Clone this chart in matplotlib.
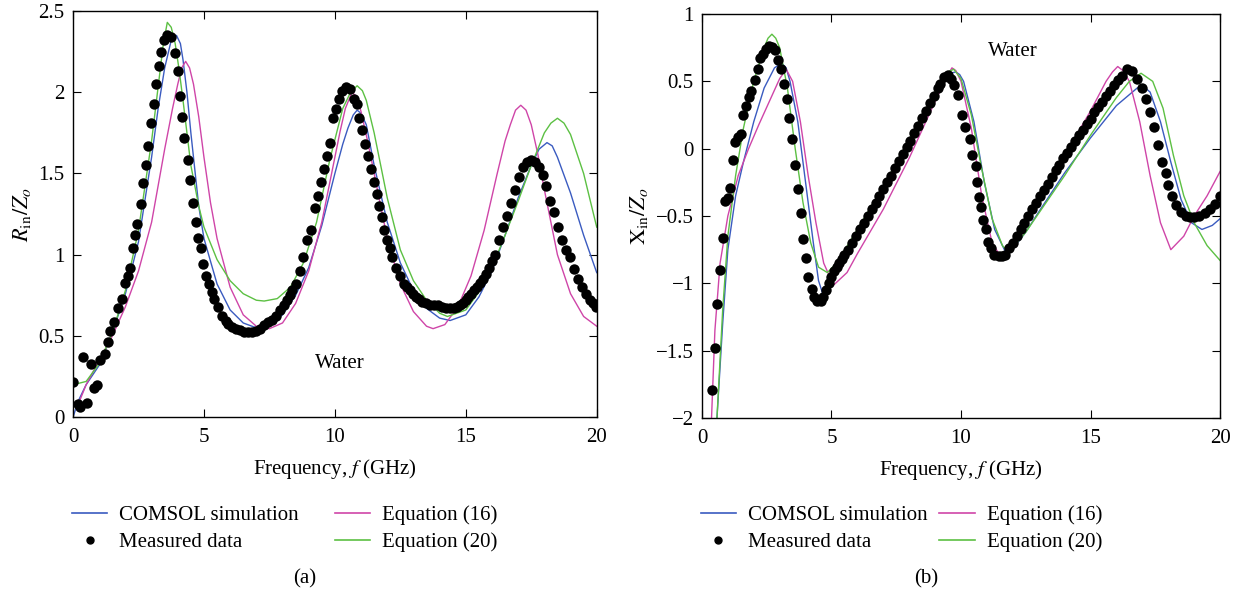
import matplotlib
matplotlib.use("Agg")
import matplotlib.pyplot as plt
from matplotlib.lines import Line2D

plt.rcParams['font.family'] = ['Liberation Serif', 'DejaVu Serif']
plt.rcParams['mathtext.fontset'] = 'stix'
plt.rcParams['font.size'] = 15

# ---------------- (a) R_in / Z_o ----------------
ra_meas_f = [0.0, 0.2, 0.27, 0.38, 0.53, 0.68, 0.8, 0.92, 1.03, 1.22, 1.33, 1.43, 1.58, 1.7, 1.86,
             1.98, 2.08, 2.16, 2.28, 2.38, 2.46, 2.61, 2.69, 2.79, 2.88, 2.99, 3.11, 3.18, 3.29,
             3.37, 3.49, 3.59, 3.74, 3.89, 4.0, 4.08, 4.17, 4.24, 4.38, 4.47, 4.57, 4.68, 4.77,
             4.88, 4.95, 5.06, 5.18, 5.3, 5.4, 5.52, 5.7, 5.85, 5.93, 6.08, 6.23, 6.38, 6.54,
             6.69, 6.84, 6.99, 7.14, 7.29, 7.44, 7.59, 7.74, 7.9, 8.05, 8.16, 8.27, 8.38, 8.5,
             8.65, 8.8, 8.95, 9.1, 9.25, 9.37, 9.48, 9.58, 9.71, 9.83, 9.93, 10.04, 10.16, 10.28,
             10.43, 10.58, 10.73, 10.84, 10.94, 11.03, 11.14, 11.25, 11.37, 11.49, 11.59, 11.7,
             11.79, 11.89, 12.0, 12.09, 12.2, 12.35, 12.5, 12.65, 12.77, 12.88, 13.0, 13.1,
             13.22, 13.33, 13.48, 13.63, 13.78, 13.93, 14.08, 14.23, 14.38, 14.54, 14.65, 14.76,
             14.88, 14.99, 15.1, 15.21, 15.33, 15.44, 15.55, 15.67, 15.78, 15.89, 16.0, 16.12,
             16.27, 16.42, 16.57, 16.72, 16.87, 17.03, 17.18, 17.33, 17.48, 17.63, 17.78, 17.93,
             18.08, 18.23, 18.38, 18.53, 18.69, 18.84, 18.99, 19.14, 19.29, 19.44, 19.6, 19.74,
             19.87, 19.97]
ra_meas = [0.215, 0.08, 0.06, 0.37, 0.09, 0.33, 0.18, 0.2, 0.35, 0.39, 0.46, 0.53, 0.585, 0.67, 0.73,
           0.825, 0.87, 0.92, 1.04, 1.12, 1.19, 1.31, 1.44, 1.55, 1.67, 1.81, 1.93, 2.05, 2.16,
           2.25, 2.32, 2.35, 2.34, 2.24, 2.13, 1.98, 1.85, 1.72, 1.58, 1.46, 1.32, 1.2, 1.1,
           1.04, 0.94, 0.87, 0.82, 0.77, 0.73, 0.68, 0.62, 0.59, 0.575, 0.555, 0.545, 0.535, 0.525,
           0.525, 0.525, 0.53, 0.545, 0.565, 0.585, 0.6, 0.625, 0.66, 0.69, 0.72, 0.75, 0.785, 0.82,
           0.9, 0.985, 1.09, 1.15, 1.29, 1.36, 1.45, 1.53, 1.61, 1.69, 1.84, 1.9, 1.96, 2.01,
           2.035, 2.02, 1.96, 1.93, 1.84, 1.77, 1.68, 1.61, 1.53, 1.45, 1.375, 1.3,
           1.23, 1.15, 1.09, 1.04, 0.985, 0.92, 0.87, 0.82, 0.8, 0.78, 0.76, 0.74,
           0.725, 0.71, 0.7, 0.69, 0.69, 0.69, 0.68, 0.67, 0.67, 0.67, 0.68, 0.69,
           0.705, 0.72, 0.74, 0.76, 0.78, 0.8, 0.825, 0.85, 0.88, 0.92, 0.96, 1.0,
           1.09, 1.17, 1.24, 1.32, 1.4, 1.48, 1.54, 1.57, 1.58, 1.57, 1.54, 1.49,
           1.42, 1.33, 1.26, 1.17, 1.09, 1.03, 0.985, 0.91, 0.85, 0.8, 0.76, 0.72,
           0.7, 0.68]

ra_comsol_f = [0.0, 0.2, 0.5, 1.0, 1.5, 2.0, 2.5, 3.0, 3.25, 3.5, 3.75, 3.95, 4.1, 4.2, 4.35, 4.5,
               4.8, 5.0, 5.5, 6.0, 6.5, 7.0, 7.5, 8.0, 8.5, 9.0, 9.5, 10.0, 10.3, 10.5, 10.7,
               10.85, 11.0, 11.2, 11.5, 12.0, 12.5, 13.0, 13.5, 14.0, 14.4, 15.0, 15.5, 16.0,
               16.5, 17.0, 17.5, 17.8, 18.1, 18.3, 18.5, 19.0, 19.5, 20.0]
ra_comsol = [0.0, 0.1, 0.2, 0.32, 0.52, 0.76, 1.08, 1.6, 1.9, 2.15, 2.32, 2.35, 2.3, 2.2, 2.0, 1.75,
             1.3, 1.1, 0.82, 0.66, 0.58, 0.55, 0.56, 0.63, 0.75, 0.92, 1.18, 1.5, 1.68, 1.78, 1.86,
             1.89, 1.87, 1.8, 1.55, 1.2, 0.95, 0.78, 0.67, 0.61, 0.595, 0.63, 0.74, 0.9,
             1.12, 1.35, 1.55, 1.65, 1.69, 1.67, 1.6, 1.38, 1.12, 0.89]

ra_eq16_f = [0.2, 0.5, 1.0, 1.5, 2.0, 2.5, 3.0, 3.5, 3.8, 4.0, 4.15, 4.3, 4.45, 4.6, 4.8, 5.0, 5.25,
             5.5, 6.0, 6.5, 7.0, 7.5, 8.0, 8.5, 9.0, 9.5, 10.0, 10.2, 10.4, 10.65, 10.85, 11.0,
             11.25, 11.5, 12.0, 12.5, 13.0, 13.5, 13.75, 14.2, 14.7, 15.2, 15.7, 16.2, 16.5,
             16.7, 16.9, 17.1, 17.3, 17.5, 17.75, 18.0, 18.5, 19.0, 19.5, 20.0]
ra_eq16 = [0.08, 0.2, 0.35, 0.5, 0.68, 0.9, 1.2, 1.65, 1.9, 2.05, 2.15, 2.19, 2.15, 2.05, 1.85, 1.6,
           1.32, 1.1, 0.8, 0.63, 0.56, 0.545, 0.58, 0.7, 0.9, 1.2, 1.6, 1.76, 1.9, 2.0, 1.97, 1.88,
           1.7, 1.5, 1.1, 0.82, 0.65, 0.56, 0.545, 0.57, 0.68, 0.87, 1.15, 1.5, 1.7,
           1.8, 1.89, 1.92, 1.89, 1.8, 1.62, 1.4, 1.0, 0.76, 0.62, 0.56]

ra_eq20_f = [0.0, 0.5, 1.0, 1.5, 2.0, 2.5, 3.0, 3.3, 3.45, 3.6, 3.75, 3.9, 4.05, 4.2, 4.5, 4.8, 5.0,
             5.5, 6.0, 6.5, 7.0, 7.3, 7.8, 8.3, 8.8, 9.3, 9.8, 10.3, 10.6, 10.85, 11.05, 11.2,
             11.5, 12.0, 12.5, 13.0, 13.5, 14.0, 14.3, 15.0, 15.5, 16.0, 16.5, 17.0, 17.5, 18.0,
             18.25, 18.5, 18.75, 19.0, 19.5, 20.0]
ra_eq20 = [0.2, 0.22, 0.33, 0.52, 0.78, 1.15, 1.7, 2.1, 2.3, 2.43, 2.4, 2.3, 2.14, 1.95, 1.55, 1.3,
           1.17, 0.97, 0.84, 0.76, 0.72, 0.715, 0.73, 0.8, 0.95, 1.2, 1.58, 1.9, 2.0, 2.04, 2.01,
           1.95, 1.75, 1.35, 1.03, 0.84, 0.72, 0.64, 0.62, 0.66, 0.77, 0.92, 1.12, 1.33, 1.55,
           1.75, 1.81, 1.84, 1.81, 1.74, 1.5, 1.17]

# ---------------- (b) X_in / Z_o ----------------
xb_meas_f = [0.38, 0.5, 0.58, 0.7, 0.81, 0.88, 0.99, 1.08, 1.19, 1.29, 1.39, 1.49, 1.6, 1.69, 1.8,
             1.9, 2.03, 2.15, 2.25, 2.36, 2.48, 2.6, 2.71, 2.82, 2.94, 3.06, 3.17, 3.27, 3.37,
             3.47, 3.58, 3.7, 3.81, 3.9, 4.0, 4.11, 4.23, 4.34, 4.46, 4.58, 4.69, 4.8, 4.92,
             5.0, 5.1, 5.2, 5.3, 5.4, 5.5, 5.65, 5.8, 5.95, 6.1, 6.25, 6.4, 6.55, 6.7, 6.85, 7.0,
             7.15, 7.3, 7.45, 7.6, 7.75, 7.9, 8.05, 8.2, 8.35, 8.5, 8.65, 8.8, 8.95, 9.1, 9.2,
             9.34, 9.5, 9.62, 9.72, 9.87, 10.02, 10.17, 10.33, 10.43, 10.56, 10.63, 10.71, 10.78,
             10.86, 10.97, 11.06, 11.17, 11.29, 11.47, 11.6, 11.7, 11.85, 12.0, 12.15, 12.3,
             12.45, 12.6, 12.75, 12.9, 13.05, 13.2, 13.35, 13.5, 13.65, 13.8, 13.95, 14.1, 14.25,
             14.4, 14.55, 14.7, 14.85, 15.0, 15.15, 15.3, 15.45, 15.6, 15.75, 15.9, 16.05, 16.2,
             16.42, 16.6, 16.8, 17.0, 17.15, 17.3, 17.45, 17.6, 17.75, 17.9, 18.0, 18.15, 18.3,
             18.5, 18.7, 18.85, 19.0, 19.2, 19.4, 19.6, 19.8, 20.0]
xb_meas = [-1.79, -1.48, -1.15, -0.9, -0.66, -0.39, -0.37, -0.29, -0.085, 0.05, 0.09, 0.11, 0.25,
           0.32, 0.385, 0.43, 0.51, 0.595, 0.67, 0.705, 0.74, 0.765, 0.755, 0.73, 0.66, 0.595,
           0.48, 0.37, 0.23, 0.07, -0.12, -0.3, -0.48, -0.67, -0.81, -0.95, -1.04, -1.1, -1.13,
           -1.13, -1.1, -1.05, -1.0, -0.95, -0.91, -0.88, -0.85, -0.82, -0.79, -0.75, -0.7,
           -0.65, -0.6, -0.55, -0.5, -0.45, -0.4, -0.35, -0.3, -0.25, -0.2, -0.14, -0.09, -0.04,
           0.01, 0.06, 0.12, 0.17, 0.23, 0.28, 0.34, 0.39, 0.45, 0.48, 0.53, 0.545, 0.52, 0.47,
           0.4, 0.25, 0.16, 0.07, -0.05, -0.13, -0.25, -0.36, -0.43, -0.53, -0.6, -0.69, -0.74,
           -0.79, -0.8, -0.8, -0.79, -0.74, -0.7, -0.65, -0.6, -0.55, -0.5, -0.45, -0.4, -0.35,
           -0.31, -0.26, -0.21, -0.16, -0.12, -0.07, -0.03, 0.01, 0.06, 0.1, 0.14, 0.18, 0.22,
           0.27, 0.31, 0.35, 0.39, 0.43, 0.47, 0.51, 0.54, 0.59, 0.58, 0.52, 0.45, 0.37, 0.27,
           0.16, 0.03, -0.1, -0.18, -0.27, -0.35, -0.42, -0.47, -0.5, -0.51, -0.51, -0.5,
           -0.48, -0.45, -0.41, -0.35]

xb_comsol_f = [0.58, 0.8, 1.0, 1.3, 1.6, 2.0, 2.4, 2.8, 2.95, 3.1, 3.25, 3.4, 3.7, 4.0, 4.3, 4.5,
               4.65, 4.9, 5.2, 6.0, 7.0, 8.0, 9.0, 9.6, 9.8, 9.95, 10.1, 10.5, 10.9, 11.3, 11.7,
               11.9, 12.5, 13.0, 14.0, 15.0, 16.0, 16.8, 17.0, 17.3, 17.7, 18.1, 18.5, 18.9,
               19.3, 19.7, 20.0]
xb_comsol = [-2.0, -1.3, -0.75, -0.35, -0.1, 0.2, 0.45, 0.6, 0.62, 0.63, 0.6, 0.5, 0.2, -0.25,
             -0.7, -0.98, -1.07, -1.02, -0.92, -0.66, -0.32, 0.05, 0.4, 0.56, 0.57, 0.55, 0.5,
             0.2, -0.25, -0.6, -0.76, -0.77, -0.62, -0.47, -0.18, 0.08, 0.32, 0.45, 0.47, 0.42,
             0.2, -0.1, -0.38, -0.55, -0.6, -0.57, -0.52]

xb_eq16_f = [0.37, 0.5, 0.7, 1.0, 1.4, 1.8, 2.2, 2.6, 3.0, 3.25, 3.5, 3.8, 4.1, 4.4, 4.7, 5.0, 5.1,
             5.6, 6.0, 7.0, 8.0, 9.0, 9.5, 9.65, 9.8, 10.0, 10.4, 10.8, 11.2, 11.6, 12.0, 13.0,
             14.0, 15.0, 15.6, 15.85, 16.05, 16.25, 16.5, 16.9, 17.3, 17.7, 18.1, 18.6, 19.0,
             19.5, 20.0]
xb_eq16 = [-2.0, -1.35, -0.85, -0.5, -0.2, 0.0, 0.18, 0.35, 0.52, 0.59, 0.5, 0.2, -0.2, -0.55,
           -0.85, -0.98, -1.01, -0.92, -0.78, -0.45, -0.07, 0.35, 0.55, 0.6, 0.58, 0.5, 0.15,
           -0.35, -0.7, -0.82, -0.72, -0.4, -0.05, 0.28, 0.5, 0.57, 0.61, 0.58, 0.5, 0.2, -0.2,
           -0.55, -0.75, -0.65, -0.5, -0.35, -0.17]

xb_eq20_f = [0.58, 0.8, 1.0, 1.3, 1.6, 2.0, 2.4, 2.55, 2.7, 2.85, 3.0, 3.3, 3.6, 3.9, 4.2, 4.5,
             4.84, 5.2, 6.0, 7.0, 8.0, 9.0, 9.5, 9.72, 10.0, 10.4, 10.8, 11.2, 11.6, 11.85, 12.5,
             13.0, 14.0, 15.0, 16.0, 16.5, 16.95, 17.4, 17.8, 18.2, 18.6, 19.0, 19.5, 20.0]
xb_eq20 = [-2.0, -1.2, -0.65, -0.2, 0.15, 0.5, 0.75, 0.82, 0.85, 0.82, 0.75, 0.45, 0.0, -0.4,
           -0.7, -0.88, -0.92, -0.85, -0.6, -0.28, 0.07, 0.42, 0.57, 0.59, 0.52, 0.25, -0.15,
           -0.52, -0.72, -0.77, -0.62, -0.48, -0.2, 0.1, 0.38, 0.5, 0.56, 0.5, 0.3, -0.05,
           -0.35, -0.55, -0.72, -0.83]

blue = '#3a5bc0'
magenta = '#cf45a8'
green = '#5cc043'

fig = plt.figure(figsize=(12.38, 5.96), dpi=100)
ax1 = fig.add_axes([0.059, 0.300, 0.423, 0.6815])
ax2 = fig.add_axes([0.567, 0.2987, 0.4185, 0.6778])


def draw(ax, mf, m, cf, c, e16f, e16, e20f, e20):
    ax.plot(cf, c, color=blue, lw=1.0)
    ax.plot(e16f, e16, color=magenta, lw=1.0)
    ax.plot(e20f, e20, color=green, lw=1.0)
    ax.plot(mf, m, 'o', color='black', ms=7.5, mew=0)
    ax.set_xlim(0, 20)
    ax.set_xticks([0, 5, 10, 15, 20])
    ax.tick_params(direction='in', top=True, right=True, length=6, labelsize=15)
    ax.tick_params(axis='x', pad=8)
    ax.tick_params(axis='y', pad=6)
    ax.set_xlabel('Frequency, $f$ (GHz)', fontsize=15, labelpad=7)
    for s in ax.spines.values():
        s.set_linewidth(1.0)


draw(ax1, ra_meas_f, ra_meas, ra_comsol_f, ra_comsol, ra_eq16_f, ra_eq16, ra_eq20_f, ra_eq20)
ax1.set_ylim(0, 2.5)
ax1.set_yticks([0, 0.5, 1, 1.5, 2, 2.5])
ax1.set_yticklabels(['0', '0.5', '1', '1.5', '2', '2.5'])
ax1.set_ylabel(r'$R_{\mathrm{in}}/Z_o$', fontsize=16)
ax1.text(10.2, 0.33, 'Water', ha='center', va='center', fontsize=15)

draw(ax2, xb_meas_f, xb_meas, xb_comsol_f, xb_comsol, xb_eq16_f, xb_eq16, xb_eq20_f, xb_eq20)
ax2.set_ylim(-2, 1)
ax2.set_yticks([-2, -1.5, -1, -0.5, 0, 0.5, 1])
ax2.set_yticklabels(['\u22122', '\u22121.5', '\u22121', '\u22120.5', '0', '0.5', '1'])
ax2.set_ylabel(r'$\mathrm{X}_{\mathrm{in}}/Z_o$', fontsize=16)
ax2.text(12.0, 0.72, 'Water', ha='center', va='center', fontsize=15)

handles = [Line2D([], [], color=blue, lw=1.2),
           Line2D([], [], ls='none', marker='o', color='black', ms=5),
           Line2D([], [], color=magenta, lw=1.2),
           Line2D([], [], color=green, lw=1.2)]
labels = ['COMSOL simulation', 'Measured data', 'Equation (16)', 'Equation (20)']

fig.legend(handles, labels, ncol=2, loc='upper left', bbox_to_anchor=(0.058, 0.152),
           frameon=False, fontsize=15, handlelength=1.7, handletextpad=0.58,
           columnspacing=1.73, labelspacing=0.36, borderpad=0, borderaxespad=0)
fig.legend(handles, labels, ncol=2, loc='upper left', bbox_to_anchor=(0.566, 0.152),
           frameon=False, fontsize=15, handlelength=1.7, handletextpad=0.58,
           columnspacing=0.55, labelspacing=0.36, borderpad=0, borderaxespad=0)

fig.text(305 / 1238, 1 - 579 / 596, '(a)', ha='center', va='center', fontsize=15)
fig.text(926 / 1238, 1 - 579 / 596, '(b)', ha='center', va='center', fontsize=15)

fig.savefig('out.png', dpi=100)
